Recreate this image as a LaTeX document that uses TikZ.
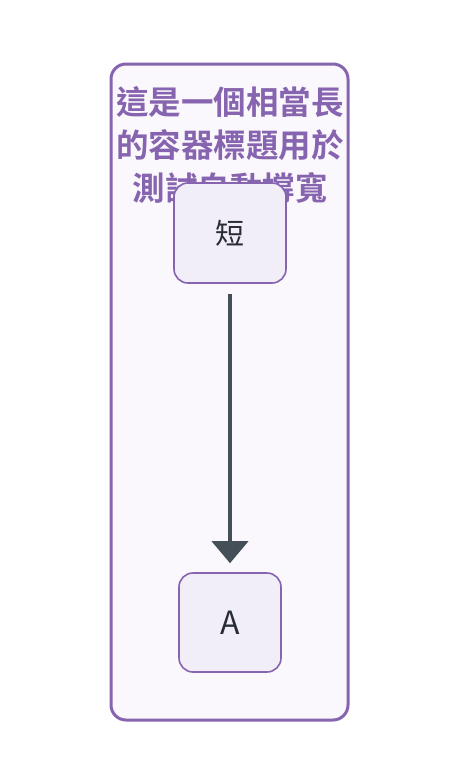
\documentclass[tikz,border=0pt]{standalone}
\usepackage{fontspec}
\setmainfont{Noto Sans CJK TC}
\newfontfamily\cjkbold{Noto Sans CJK TC Bold}
\usetikzlibrary{arrows.meta}
\definecolor{clpurple}{RGB}{135,100,175}
\definecolor{clfill}{RGB}{250,248,252}
\definecolor{ndfill}{RGB}{241,238,248}
\definecolor{txtdark}{RGB}{40,44,52}
\definecolor{edgecol}{RGB}{68,79,87}
\tikzset{
  container/.style={draw=clpurple, line width=3pt, fill=clfill, rounded corners=15pt},
  titletext/.style={text=clpurple, font=\cjkbold\fontsize{32.5}{38}\selectfont, inner sep=0pt, anchor=center},
  boxnode/.style={draw=clpurple, line width=1.6pt, fill=ndfill, rounded corners=14pt, text=txtdark, font=\fontsize{29}{32}\selectfont, inner sep=0pt, anchor=center},
  edge/.style={draw=edgecol, line width=4pt, -{Triangle[width=36pt,length=22pt]}, shorten <=10pt, shorten >=9pt}
}
\begin{document}
\begin{tikzpicture}[x=1pt,y=-1pt]
\useasboundingbox (0,0) rectangle (460,780);
\draw[container] (111,64) rectangle (348,720);
\node[titletext] (t1) at (230,102) {這是一個相當長};
\node[titletext] (t2) at (230,145) {的容器標題用於};
\node[titletext] (t3) at (230,188) {測試自動撐寬};
\node[boxnode, minimum width=112pt, minimum height=100pt] (short) at (230,233) {短};
\node[boxnode, minimum width=102pt, minimum height=99pt, font=\fontsize{32}{36}\selectfont] (a) at (230,622.5) {A};
\draw[edge] (short) -- (a);
\end{tikzpicture}
\end{document}
